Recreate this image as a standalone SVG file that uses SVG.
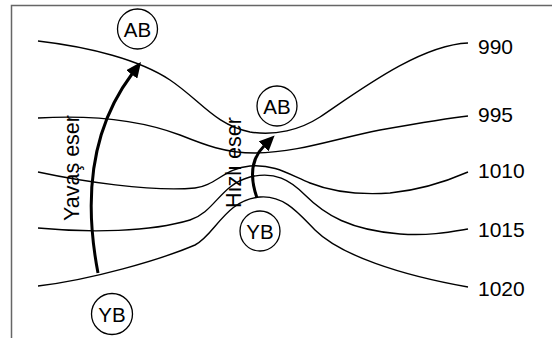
<svg xmlns="http://www.w3.org/2000/svg" width="552" height="338" viewBox="0 0 552 338">
<style>
text{font-family:"Liberation Sans",Arial,Helvetica,sans-serif;fill:#000}
.lbl{font-size:21px}
.cl{font-size:20.5px;text-anchor:middle}
.rot{font-size:21.5px;text-anchor:middle}
.iso{fill:none;stroke:#000;stroke-width:1.4}
.arr{fill:none;stroke:#000;stroke-width:3;marker-end:url(#ah)}
.node circle{fill:#fff;stroke:#000;stroke-width:1.3}
</style>
<defs>
<marker id="ah" markerUnits="userSpaceOnUse" markerWidth="16" markerHeight="14" viewBox="0 0 16 14" refX="0.5" refY="7" orient="auto">
<path d="M0,0 L15.5,7 L0,14 Z" fill="#000"/>
</marker>
</defs>
<rect width="552" height="338" fill="#fff"/>
<g id="frame" fill="none" stroke="#666" stroke-width="1.5">
<path d="M11.5,338 V5.5 H552"/>
</g>
<g id="isobars">
<g id="iso990"><path class="iso" d="M38,41 C90,47 140,60 170,80 C200,100 215,125 250,132 C275,136 300,130 320,117 C360,90 420,45 468,43"/><text class="lbl" x="478" y="54">990</text></g>
<g id="iso995"><path class="iso" d="M38,118 C90,115 140,120 180,135 C205,145 225,153 255,153 C300,152 330,140 380,130 C420,123 450,118 468,116"/><text class="lbl" x="478" y="122">995</text></g>
<g id="iso1010"><path class="iso" d="M38,172 C80,181 150,192 195,188 C215,186 225,168 250,166 C275,164 290,175 310,183 C335,193 360,195 390,193 C420,190 445,182 468,172"/><text class="lbl" x="478" y="178">1010</text></g>
<g id="iso1015"><path class="iso" d="M38,228 C90,233 150,232 190,220 C215,212 220,185 250,177 C275,171 290,180 305,195 C325,215 350,230 400,234 C430,236 450,232 468,229"/><text class="lbl" x="478" y="237">1015</text></g>
<g id="iso1020"><path class="iso" d="M38,286 C90,280 160,260 195,245 C215,235 225,200 260,197 C285,195 300,215 315,230 C340,255 400,275 468,287"/><text class="lbl" x="478" y="296">1020</text></g>
</g>
<g id="connectors">
<path id="slow" class="arr" d="M98,273 C84,200 90,130 132,74"/>
<path id="fast" class="arr" d="M257,198 C250,178 250,160 264,146"/>
<text class="rot" transform="translate(79,168) rotate(-90)">Yavaş eser</text>
<text class="rot" transform="translate(241,162.5) rotate(-90)">Hızlı eser</text>
</g>
<g id="AB1" class="node"><circle cx="137.5" cy="29" r="20"/><text class="cl" x="137.5" y="36.5">AB</text></g>
<g id="AB2" class="node"><circle cx="277" cy="106" r="20"/><text class="cl" x="277" y="113.5">AB</text></g>
<g id="YB1" class="node"><circle cx="260" cy="231" r="20"/><text class="cl" x="260" y="238.5">YB</text></g>
<g id="YB2" class="node"><circle cx="112" cy="314" r="20.5"/><text class="cl" x="112" y="321.5">YB</text></g>
</svg>
